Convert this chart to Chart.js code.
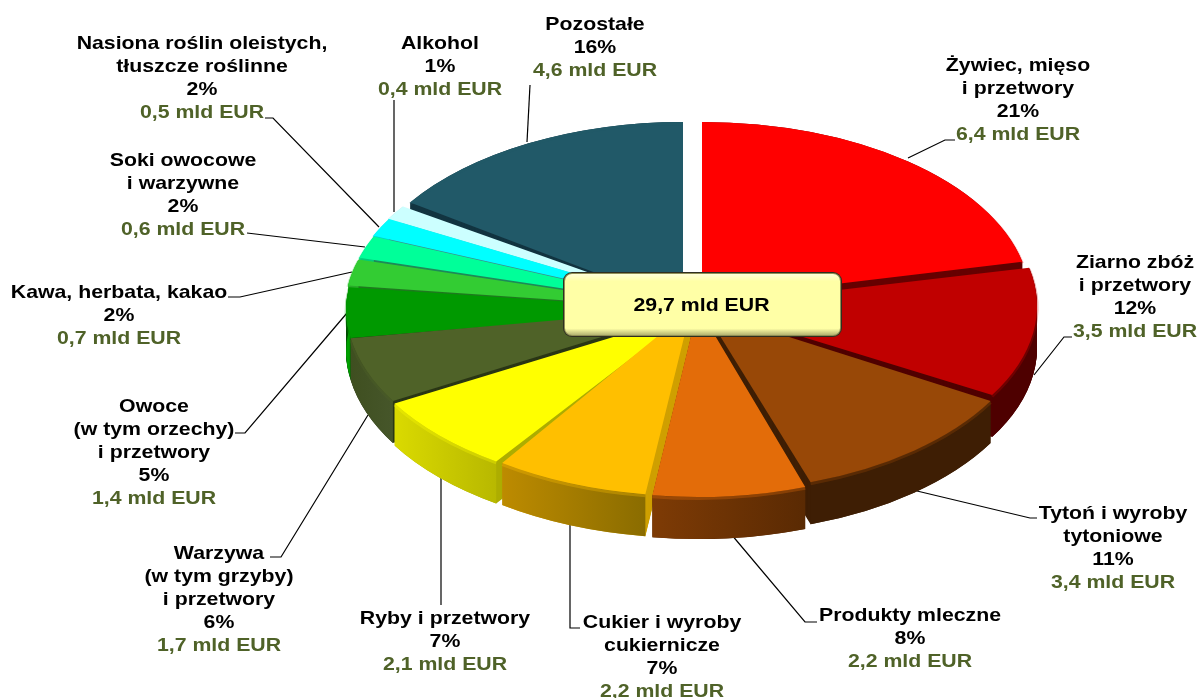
<!DOCTYPE html>
<html><head><meta charset="utf-8">
<style>html,body{margin:0;padding:0;background:#fff}canvas{display:block}</style>
<script src="https://cdn.jsdelivr.net/npm/chart.js@4/dist/chart.umd.min.js"></script>
</head><body><canvas id="c" width="1200" height="698"></canvas>
<script>
// data
const categories=["Żywiec, mięso i przetwory","Ziarno zbóż i przetwory","Tytoń i wyroby tytoniowe","Produkty mleczne","Cukier i wyroby cukiernicze","Ryby i przetwory","Warzywa (w tym grzyby) i przetwory","Owoce (w tym orzechy) i przetwory","Kawa, herbata, kakao","Soki owocowe i warzywne","Nasiona roślin oleistych, tłuszcze roślinne","Alkohol","Pozostałe"];
const values=[6.4,3.5,3.4,2.2,2.2,2.1,1.7,1.4,0.7,0.6,0.5,0.4,4.6];
const percents=["21%","12%","11%","8%","7%","7%","6%","5%","2%","2%","2%","1%","16%"];
const amounts=["6,4 mld EUR","3,5 mld EUR","3,4 mld EUR","2,2 mld EUR","2,2 mld EUR","2,1 mld EUR","1,7 mld EUR","1,4 mld EUR","0,7 mld EUR","0,6 mld EUR","0,5 mld EUR","0,4 mld EUR","4,6 mld EUR"];
const totalLabel="29,7 mld EUR";
const nameLines=[["Żywiec, mięso","i przetwory"],["Ziarno zbóż","i przetwory"],["Tytoń i wyroby","tytoniowe"],["Produkty mleczne"],["Cukier i wyroby","cukiernicze"],["Ryby i przetwory"],["Warzywa","(w tym grzyby)","i przetwory"],["Owoce","(w tym orzechy)","i przetwory"],["Kawa, herbata, kakao"],["Soki owocowe","i warzywne"],["Nasiona roślin oleistych,","tłuszcze roślinne"],["Alkohol"],["Pozostałe"]];
// styles
const topColors=["#FF0000","#C00000","#984807","#E36C09","#FFBF00","#FFFF00","#4F6228","#009900","#33CC33","#00FF99","#00FFFF","#CCFFFF","#215968"];
const cutColors=["#660000","#500000","#3E1E04","#5A2A03","#CFA000","#ADAD00","#2A3615","#004D00","#1F7A1F","#1E8A5A","#3A8F8F","#808F8F","#123440"];
const wallLeft=["#600000","#4E0000","#3E1E04","#7E3B05","#BD8B00","#DADA00","#3F4F20","#00A000","#2AAA2A","#00CC7A","#00CCCC","#A8D8D8","#123440"];
const wallRight=["#600000","#4E0000","#3E1E04","#5A2A03","#8A6C00","#B8B800","#46562A","#008000","#2AAA2A","#00CC7A","#00CCCC","#A8D8D8","#123440"];
// placement of each exploded slice on the page
const sliceCx=[702,702,704,698,691,689,696,693,690,686,681,680,683];
const sliceCy=[300,306,310,307,309,314,308,310,309,307,305,305,306];
const sliceRx=[328,335,331,333,333,340,350,347,345,340,335,335,330];
const sliceRy=[178,178,182,190,187,179,186,172,179,178,175,175,184];
const paintOrder=[0,12,11,10,9,8,7,1,6,2,5,4,3];
const wallDepth=42;
const labelX=[1018,1135,1113,910,662,445,219,154,119,183,202,440,595];
const labelY=[66,263,514,616,623,619,554,407,293,161,44,44,25];
const lineStep=23;
const textStretch=1.12;
const leaders=[
[[908,158],[945,140],[955,140]],
[[1034,375],[1064,337],[1072,337]],
[[917,491],[1030,518],[1037,518]],
[[731,534],[805,622],[817,622]],
[[570,523],[570,628],[580,628]],
[[441,478],[441,605]],
[[368,415],[281,557],[270,557]],
[[347,313],[245,433],[235,433]],
[[352,272],[240,297],[228,297]],
[[365,247],[247,233]],
[[379,227],[273,118],[265,118]],
[[394,212],[394,100]],
[[527,142],[530,85]]];

function place(ctx,el,i,dy){
  ctx.translate(sliceCx[i],sliceCy[i]+dy);
  ctx.scale(sliceRx[i]/el.outerRadius,sliceRy[i]/el.outerRadius);
  ctx.translate(-el.x,-el.y);
}
function paintEl(ctx,el,color){
  const o=el.options;
  el.options=Object.assign({},o,{backgroundColor:color,borderWidth:0});
  el.draw(ctx);
  el.options=o;
}
function wideText(ctx,t,x,y){
  ctx.save();ctx.translate(x,y);ctx.scale(textStretch,1);ctx.fillText(t,0,0);ctx.restore();
}
const pie3d={id:'pie3d',
 beforeDatasetDraw(chart){
  const ctx=chart.ctx,arcs=chart.getDatasetMeta(0).data;
  ctx.save();
  ctx.strokeStyle='#000';ctx.lineWidth=1.2;
  leaders.forEach(l=>{ctx.beginPath();l.forEach((p,k)=>k?ctx.lineTo(p[0],p[1]):ctx.moveTo(p[0],p[1]));ctx.stroke();});
  ctx.restore();
  paintOrder.forEach(i=>{
    const el=arcs[i];
    const k=sliceRy[i]/el.outerRadius;
    for(let d=wallDepth;d>=1;d-=1){
      ctx.save();place(ctx,el,i,d);paintEl(ctx,el,cutColors[i]);ctx.restore();
    }
    // outer wall
    ctx.save();
    place(ctx,el,i,0);
    const x0=el.x+Math.cos(el.startAngle)*el.outerRadius,x1=el.x+Math.cos(el.endAngle)*el.outerRadius;
    const g=ctx.createLinearGradient(Math.min(x0,x1),0,Math.max(x0,x1),0);
    g.addColorStop(0,wallLeft[i]);g.addColorStop(1,wallRight[i]);
    ctx.fillStyle=g;
    const dd=wallDepth/k;
    ctx.beginPath();
    ctx.arc(el.x,el.y,el.outerRadius,el.startAngle,el.endAngle);
    ctx.arc(el.x,el.y+dd,el.outerRadius,el.endAngle,el.startAngle,true);
    ctx.closePath();ctx.fill();
    ctx.restore();
    // top surface
    ctx.save();place(ctx,el,i,0);paintEl(ctx,el,topColors[i]);ctx.restore();
    // soft bevel along the rim
    ctx.save();
    place(ctx,el,i,1.5);
    ctx.beginPath();
    ctx.arc(el.x,el.y,el.outerRadius,el.startAngle,el.endAngle);
    ctx.restore();
    ctx.save();ctx.globalAlpha=.3;ctx.strokeStyle=topColors[i];ctx.lineWidth=3;ctx.stroke();ctx.restore();
  });
  return false;
 },
 afterDraw(chart){
  const ctx=chart.ctx;
  ctx.save();
  // centre box
  const bx=563,by=272,bw=279,bh=65;
  ctx.fillStyle='#2f2f20';ctx.beginPath();ctx.roundRect(bx,by,bw,bh,9);ctx.fill();
  ctx.fillStyle='#8f8f55';ctx.beginPath();ctx.roundRect(bx+1,by+1,bw-2,bh-2,8);ctx.fill();
  const v=ctx.createLinearGradient(0,by+1,0,by+bh-1);
  v.addColorStop(0,'#FFFFE0');v.addColorStop(.13,'#FFFFA6');v.addColorStop(.88,'#FFFFA6');v.addColorStop(1,'#A8A86A');
  ctx.fillStyle=v;ctx.beginPath();ctx.roundRect(bx+2,by+2,bw-4,bh-4,7);ctx.fill();
  ctx.fillStyle='#000';ctx.textAlign='center';ctx.textBaseline='middle';
  ctx.font='bold 19px "Liberation Sans", Arial';
  wideText(ctx,totalLabel,bx+bw/2-1,by+bh/2+1);
  // slice labels
  categories.forEach((_,i)=>{
    const rows=nameLines[i].concat([percents[i]]);
    let y=labelY[i];
    ctx.fillStyle='#000';
    rows.forEach(r=>{wideText(ctx,r,labelX[i],y);y+=lineStep;});
    ctx.fillStyle='#4F6228';
    wideText(ctx,amounts[i],labelX[i],y);
  });
  ctx.restore();
 }};
new Chart(document.getElementById('c'),{
 type:'pie',
 data:{labels:categories,datasets:[{data:values,backgroundColor:topColors,borderWidth:0,radius:335}]},
 options:{responsive:false,animation:false,plugins:{legend:{display:false},tooltip:{enabled:false}},layout:{padding:0}},
 plugins:[pie3d]
});
</script></body></html>
